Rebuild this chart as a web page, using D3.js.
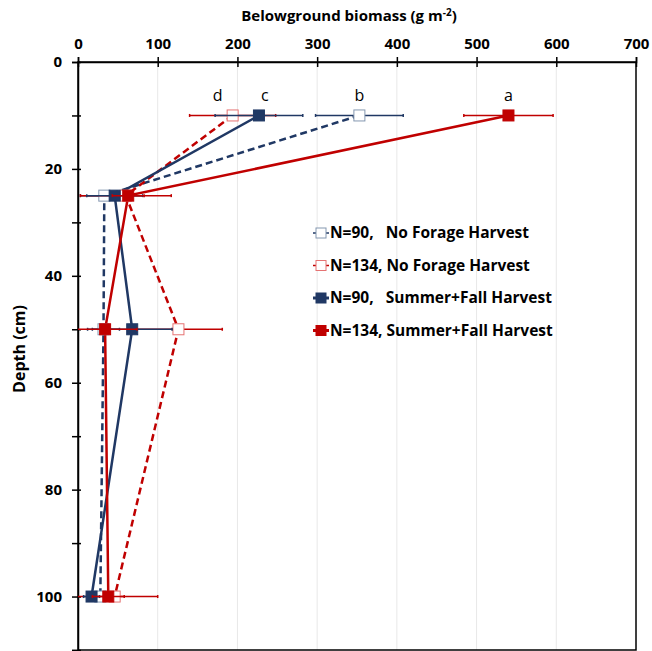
<!DOCTYPE html>
<html>
<head>
<meta charset="utf-8">
<script src="https://cdn.jsdelivr.net/npm/d3@7"></script>
<style>
  body { margin: 0; background: #fff; }
  text { font-family: "Open Sans", sans-serif; }
</style>
</head>
<body>
<div id="chart"></div>
<script>
var depths = [10, 25, 50, 100];

// biomass (g m-2) and error bar half widths, one array per series
var n90None = [353, 33, 32, 28];
var n90NoneErr = [55, 30, 20, 15];
var n134None = [194, 60, 126, 46];
var n134NoneErr = [54, 57, 55, 54];
var n90SF = [227, 46, 68, 17];
var n90SFErr = [55, 35, 50, 10];
var n134SF = [540, 63, 34, 38];
var n134SFErr = [56, 20, 40, 20];

var seriesNames = ["N=90,   No Forage Harvest", "N=134, No Forage Harvest",
                   "N=90,   Summer+Fall Harvest", "N=134, Summer+Fall Harvest"];
var letters = ["b", "d", "c", "a"];   // labels on the 10 cm points

var xTicks = [0, 100, 200, 300, 400, 500, 600, 700];
var yTicks = [0, 20, 40, 60, 80, 100];

var svgWidth = 652, svgHeight = 651;
var margin = { top: 62, right: 16, bottom: 1, left: 78 };
var width = svgWidth - margin.left - margin.right;
var height = svgHeight - margin.top - margin.bottom;

var navy = "#203864", red = "#c00000";
var series = [
  { name: seriesNames[0], vals: n90None, err: n90NoneErr, color: navy, open: true, dash: "7,4", stroke: "#8497b0" },
  { name: seriesNames[1], vals: n134None, err: n134NoneErr, color: red, open: true, dash: "7,4", stroke: "#e57373" },
  { name: seriesNames[2], vals: n90SF, err: n90SFErr, color: navy, open: false, dash: null },
  { name: seriesNames[3], vals: n134SF, err: n134SFErr, color: red, open: false, dash: null }
];

var svg = d3.select("#chart").append("svg")
  .attr("width", svgWidth)
  .attr("height", svgHeight);

var chartGroup = svg.append("g")
  .attr("transform", `translate(${margin.left}, ${margin.top})`);

var x = d3.scaleLinear().domain([0, 700]).range([0, width]);
var y = d3.scaleLinear().domain([0, 110]).range([0, height]);

svg.append("defs").append("clipPath").attr("id", "clip")
  .append("rect").attr("width", width).attr("height", height);

// light vertical gridlines
chartGroup.selectAll(".grid").data(xTicks.slice(1, -1)).enter()
  .append("line")
  .attr("x1", d => x(d)).attr("x2", d => x(d))
  .attr("y1", 0).attr("y2", height)
  .attr("stroke", "#e8e8e8").attr("stroke-width", 1);

// frame
chartGroup.append("rect")
  .attr("width", width).attr("height", height)
  .attr("fill", "none").attr("stroke", "#000").attr("stroke-width", 1.5);

// top axis
var topAxis = d3.axisTop(x).tickValues(xTicks).tickSize(5).tickPadding(8);
var gTop = chartGroup.append("g").call(topAxis);
gTop.select(".domain").attr("stroke-width", 1.5);
gTop.selectAll(".tick line").attr("y2", -5).attr("y1", 5).attr("stroke-width", 1.5);
gTop.selectAll("text").attr("font-size", 15).attr("font-weight", "bold").attr("fill", "#000");

// left axis
var leftAxis = d3.axisLeft(y).tickValues(d3.range(0, 111, 10)).tickSize(6).tickPadding(10)
  .tickFormat(d => yTicks.includes(d) ? d : "");
var gLeft = chartGroup.append("g").call(leftAxis);
gLeft.select(".domain").attr("stroke-width", 1.5);
gLeft.selectAll(".tick line").attr("x1", 3).attr("stroke-width", 1.5);
gLeft.selectAll("text").attr("font-size", 15).attr("font-weight", "bold").attr("fill", "#000");

// axis titles
var title = svg.append("text")
  .attr("x", margin.left + width / 2 - 8)
  .attr("y", 21)
  .attr("text-anchor", "middle")
  .attr("font-size", 15)
  .attr("font-weight", "bold");
title.append("tspan").text("Belowground biomass (g m");
title.append("tspan").attr("dy", -5).attr("font-size", 10).text("-2");
title.append("tspan").attr("dy", 5).text(")");

svg.append("text")
  .attr("transform", "rotate(-90)")
  .attr("x", -(margin.top + 287))
  .attr("y", 25)
  .attr("text-anchor", "middle")
  .attr("font-size", 16)
  .attr("font-weight", "bold")
  .text("Depth (cm)");

var plot = chartGroup.append("g").attr("clip-path", "url(#clip)");

var line = d3.line()
  .x(d => x(d[0]))
  .y(d => y(d[1]));

series.forEach(function(s) {
  var pts = s.vals.map((v, i) => [v, depths[i]]);
  plot.append("path")
    .datum(pts)
    .attr("d", line)
    .attr("fill", "none")
    .attr("stroke", s.color)
    .attr("stroke-width", 2.5)
    .attr("stroke-dasharray", s.dash);
});

// error bars and markers per series, in drawing order
series.forEach(function(s) {
  var g = plot.append("g");
  s.vals.forEach(function(v, i) {
    var yy = y(depths[i]);
    g.append("line")
      .attr("x1", x(v - s.err[i])).attr("x2", x(v + s.err[i]))
      .attr("y1", yy).attr("y2", yy)
      .attr("stroke", s.color).attr("stroke-width", 1.5);
    [v - s.err[i], v + s.err[i]].forEach(function(e) {
      g.append("line")
        .attr("x1", x(e)).attr("x2", x(e))
        .attr("y1", yy - 1.5).attr("y2", yy + 1.5)
        .attr("stroke", s.color).attr("stroke-width", 1.5);
    });
  });
  g.selectAll("rect").data(s.vals).enter().append("rect")
    .attr("x", d => x(d) - 5.5)
    .attr("y", (d, i) => y(depths[i]) - 5.5)
    .attr("width", 11).attr("height", 11)
    .attr("fill", s.open ? "#fff" : s.color)
    .attr("stroke", s.open ? s.stroke : s.color)
    .attr("stroke-width", 1);
});

// significance letters on the 10 cm points
var letterShift = [0, -15, 6, 0];
series.forEach(function(s, i) {
  chartGroup.append("text")
    .attr("x", x(s.vals[0]) + letterShift[i])
    .attr("y", y(depths[0]) - 14)
    .attr("text-anchor", "middle")
    .attr("font-size", 16)
    .text(letters[i]);
});

// legend
var legend = chartGroup.append("g")
  .attr("transform", "translate(235, 171)");

series.forEach(function(s, i) {
  var row = legend.append("g").attr("transform", `translate(0, ${i * 32.5})`);
  row.append("line")
    .attr("x1", 0).attr("x2", 16)
    .attr("stroke", s.color).attr("stroke-width", s.open ? 1.5 : 3);
  row.append("rect")
    .attr("x", 3).attr("y", -5).attr("width", 10).attr("height", 10)
    .attr("fill", s.open ? "#fff" : s.color)
    .attr("stroke", s.open ? s.stroke : s.color);
  row.append("text")
    .attr("x", 17)
    .attr("dy", "0.35em")
    .attr("font-size", 15.5)
    .attr("font-weight", "bold")
    .style("white-space", "pre")
    .text(s.name);
});
</script>
</body>
</html>
